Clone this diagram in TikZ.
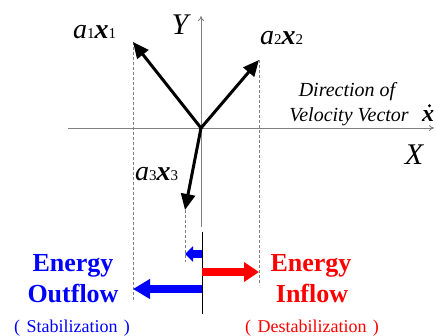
\documentclass[tikz,border=0pt]{standalone}
\usepackage{fontspec}
\setmainfont{Liberation Serif}
\usetikzlibrary{arrows.meta}
\definecolor{axisgray}{RGB}{128,128,128}
\definecolor{eblue}{RGB}{0,0,255}
\definecolor{ered}{RGB}{255,0,0}
\newcommand{\vlab}[2]{{\fontsize{28}{28}\selectfont\itshape #1}{\fontsize{15}{15}\selectfont #2}{\fontsize{28}{28}\selectfont\bfseries\itshape x}{\fontsize{15}{15}\selectfont #2}}
\begin{document}
\begin{tikzpicture}[x=1pt,y=-1pt,
  axis/.style={draw=axisgray,line width=0.9pt,-{To[length=5pt,width=6pt]}},
  vec/.style={draw=black,line width=3pt,-{Triangle[length=16pt,width=14pt]}},
  guide/.style={draw=axisgray,line width=0.8pt,dash pattern=on 3pt off 2pt},
  flows/.style={draw=eblue,line width=8pt,-{Triangle[length=8pt,width=15pt]}},
  flowb/.style={draw=eblue,line width=8pt,-{Triangle[length=17pt,width=19pt]}},
  flowr/.style={draw=ered,line width=8pt,-{Triangle[length=15pt,width=19pt]}},
  lab/.style={inner sep=0pt,anchor=base west},
  big/.style={font=\fontsize{26}{30}\selectfont\bfseries,align=center,inner sep=0pt},
  sub/.style={font=\fontsize{18}{18}\selectfont,inner sep=0pt,anchor=base}]
\useasboundingbox (0,0) rectangle (436,336);
% axes
\coordinate (O) at (201,128);
\coordinate (ytop) at (201,16);
\coordinate (ybot) at (201,227);
\coordinate (xl) at (68,128);
\coordinate (xr) at (434,128);
\draw[axis] (ybot) -- (ytop);
\draw[draw=axisgray,line width=0.9pt] (xl) -- (O);
\draw[axis] (O) -- (xr);
% vector tips
\coordinate (t1) at (133,42);
\coordinate (t2) at (259,60);
\coordinate (t3) at (185,210);
\coordinate (d1) at (133,300);
\coordinate (d2) at (259,285);
\coordinate (d3) at (185,262);
\draw[guide] (t1) -- (d1);
\draw[guide] (t2) -- (d2);
\draw[guide] (t3) -- (d3);
\draw[vec] (O) -- (t1);
\draw[vec] (O) -- (t2);
\draw[vec] (O) -- (t3);
% energy bar
\coordinate (b1) at (202.5,232);
\coordinate (b2) at (202.5,314);
\draw[black,line width=1.5pt] (b1) -- (b2);
\coordinate (s0) at (202,254);
\coordinate (s1) at (185,254);
\coordinate (l0) at (202,289);
\coordinate (l1) at (133,289);
\coordinate (r0) at (202,272);
\coordinate (r1) at (259,272);
\draw[flows] (s0) -- (s1);
\draw[flowb] (l0) -- (l1);
\draw[flowr] (r0) -- (r1);
% labels
\node[lab] (L1) at (73,39) {\vlab{a}{1}};
\node[lab] (L2) at (260,45) {\vlab{a}{2}};
\node[lab] (L3) at (135,181) {\vlab{a}{3}};
\node[inner sep=0pt,font=\fontsize{30}{30}\selectfont\itshape] (Ylab) at (180,25) {Y};
\node[inner sep=0pt,font=\fontsize{30}{30}\selectfont\itshape] (Xlab) at (414,155) {X};
\node[inner sep=0pt,anchor=base,font=\fontsize{20}{20}\selectfont\itshape] (dir1) at (347,97) {Direction of};
\node[inner sep=0pt,anchor=base,font=\fontsize{20}{20}\selectfont\itshape] (dir2) at (349,122) {Velocity Vector};
\node[inner sep=0pt,anchor=base,font=\fontsize{24}{24}\selectfont\bfseries\itshape] (xdot) at (428,122) {x};
\fill[black] ([xshift=1.5pt,yshift=5pt]xdot.north) circle (1.6pt);
\node[big,text=eblue,anchor=base] (EO1) at (73,272) {Energy};
\node[big,text=eblue,anchor=base] (EO2) at (73,302) {Outflow};
\node[sub,text=eblue] (EO3) at (72,333) {(\hspace{0.35em}Stabilization\hspace{0.35em})};
\node[big,text=ered,anchor=base] (EI1) at (311,272) {Energy};
\node[big,text=ered,anchor=base] (EI2) at (312,302) {Inflow};
\node[sub,text=ered] (EI3) at (312,333) {(\hspace{0.35em}Destabilization\hspace{0.35em})};
\end{tikzpicture}
\end{document}
